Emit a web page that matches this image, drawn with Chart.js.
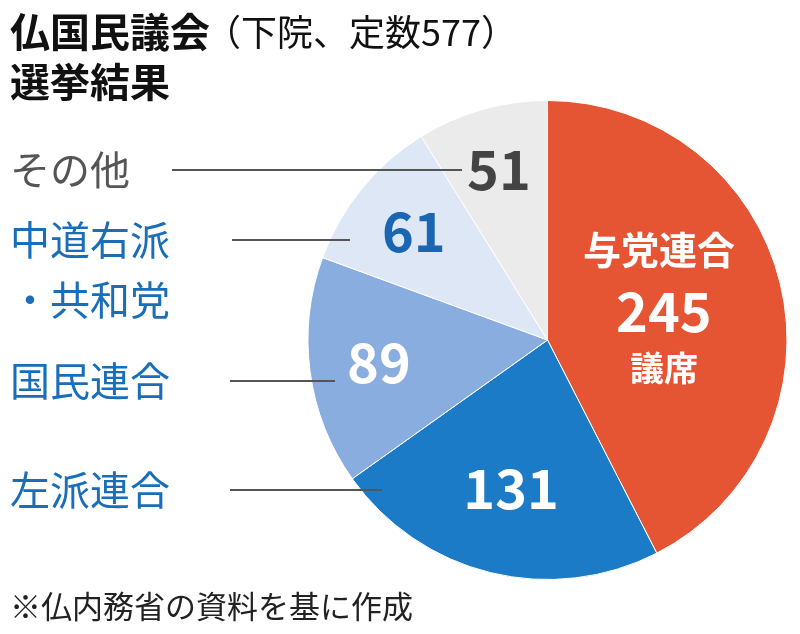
<!DOCTYPE html><html><head><meta charset="utf-8">
<script src="https://cdn.jsdelivr.net/npm/chart.js@4/dist/chart.umd.min.js"></script>
<style>html,body{margin:0;background:#fff}#w{width:800px;height:634px}</style></head><body>
<div id="w"><canvas id="c"></canvas></div>
<script>
const categories=["与党連合","左派連合","国民連合","中道右派・共和党","その他"];
const seats=[245,131,89,61,51];
const colors=["#e65533","#1b7bc6","#8aade0","#dde7f6","#ebebeb"];
const F='"Noto Sans CJK JP","Noto Sans",sans-serif';
const fr=[0.5,0.64,0.71,0.72,0.74];
const numCol=["#fff","#fff","#fff","#1a66b2","#444"];
const leftLabels=[
 {t:["その他"],y:[170],c:"#555",lx:172,line:[170,462,170]},
 {t:["中道右派","・共和党"],y:[240,300],c:"#1a6db8",lx:232,line:[240,350,240]},
 {t:["国民連合"],y:[381],c:"#1a6db8",lx:230,line:[381,335,381]},
 {t:["左派連合"],y:[490],c:"#1a6db8",lx:230,line:[490,382,490]}];
const deco={id:'deco',afterDraw(ch){const x=ch.ctx;x.save();x.textBaseline='middle';
 x.fillStyle='#111';x.font='bold 40px '+F;x.fillText('仏国民議会',10,32);
 x.font='36px '+F;x.fillText('（下院、定数577）',205,32);
 x.font='bold 40px '+F;x.fillText('選挙結果',10,82);
 x.font='31px '+F;x.fillStyle='#222';x.fillText('※仏内務省の資料を基に作成',10,606);
 x.font='40px '+F;
 leftLabels.forEach(l=>{x.fillStyle=l.c;l.t.forEach((s,i)=>x.fillText(s,10,l.y[i]));
  x.strokeStyle='#555';x.lineWidth=2;x.beginPath();x.moveTo(l.lx,l.line[0]);x.lineTo(l.line[1],l.line[2]);x.stroke();});
 const arcs=ch.getDatasetMeta(0).data;x.textAlign='center';
 arcs.forEach((a,i)=>{const m=(a.startAngle+a.endAngle)/2,r=a.outerRadius*fr[i];
  const px=a.x+Math.cos(m)*r,py=a.y+Math.sin(m)*r;x.fillStyle=numCol[i];
  x.font='bold 54px '+F;x.fillText(String(seats[i]),px,py);
  if(i===0){x.font='bold 38px '+F;x.fillText('与党連合',px-5,py-62);x.font='bold 34px '+F;x.fillText('議席',px,py+56);}});
 x.restore();}};
new Chart(document.getElementById('c'),{type:'pie',data:{labels:categories,datasets:[{data:seats,backgroundColor:colors,borderColor:'#fff',borderWidth:1}]},
options:{responsive:true,maintainAspectRatio:false,animation:false,layout:{padding:{left:307,top:100,right:12,bottom:54}},
plugins:{legend:{display:false},tooltip:{enabled:false}}},plugins:[deco]});
</script></body></html>
